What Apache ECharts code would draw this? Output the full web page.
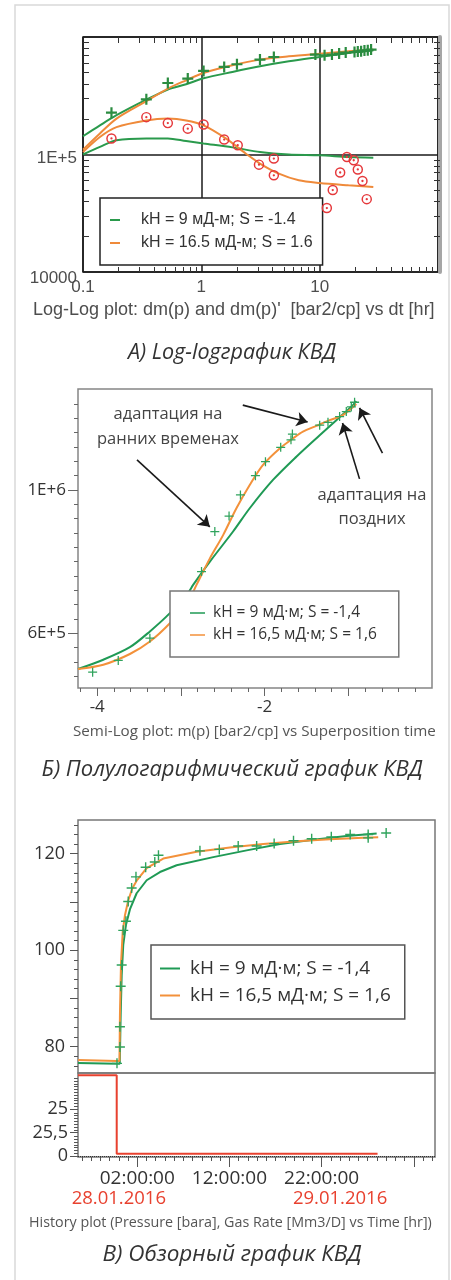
<!DOCTYPE html>
<html><head><meta charset="utf-8">
<script src="https://cdn.jsdelivr.net/npm/echarts@6/dist/echarts.min.js"></script>
<style>html,body{margin:0;padding:0;background:#fff}#c{width:451px;height:1280px}</style>
</head><body><div id="c"></div><script>
// ---------- Panel A: log-log ----------
const llNameGreen = 'kH = 9 мД-м; S = -1.4';
const llNameOrange = 'kH = 16.5 мД-м; S = 1.6';
const llPressure = [[0.174,2.27e5],[0.343,2.95e5],[0.521,4.06e5],[0.768,4.43e5],[1.045,5.14e5],[1.56,5.56e5],[2.0,5.86e5],[3.13,6.42e5],[4.1,6.76e5],[9.2,7.08e5],[11.0,6.99e5],[12.7,7.08e5],[14.6,7.22e5],[16.6,7.37e5],[19.7,7.45e5],[21.0,7.51e5],[22.4,7.56e5],[23.9,7.66e5],[25.5,7.71e5],[27.2,7.81e5]];
const llDeriv = [[0.174,1.37e5],[0.343,2.08e5],[0.521,1.85e5],[0.768,1.66e5],[1.045,1.80e5],[1.56,1.34e5],[2.03,1.20e5],[3.07,8.2e4],[4.1,9.23e4],[4.1,6.65e4],[11.5,3.5e4],[12.9,4.98e4],[14.9,7.03e4],[17.0,9.52e4],[19.4,8.93e4],[21.0,7.46e4],[23.0,5.95e4],[25.0,4.17e4]];
const llGreenP = [[0.1,1.43e5],[0.139,1.77e5],[0.192,2.16e5],[0.343,2.93e5],[0.521,3.57e5],[0.744,3.96e5],[1.045,4.45e5],[1.83,5.04e5],[3.13,5.63e5],[5.49,6.21e5],[10.0,6.76e5],[17.5,7.3e5],[28.4,7.7e5]];
const llOrangeP = [[0.1,1.10e5],[0.139,1.51e5],[0.192,2.02e5],[0.343,2.84e5],[0.521,3.64e5],[0.744,4.28e5],[1.045,4.94e5],[1.83,5.74e5],[3.13,6.42e5],[5.49,6.85e5],[10.0,7.22e5],[17.5,7.56e5],[28.4,7.81e5]];
const llGreenD = [[0.1,1.0e5],[0.139,1.16e5],[0.192,1.32e5],[0.343,1.37e5],[0.521,1.37e5],[0.744,1.30e5],[1.045,1.24e5],[1.83,1.15e5],[3.13,1.05e5],[5.49,1.0e5],[10.0,9.85e4],[17.5,9.53e4],[28.4,9.4e4]];
const llOrangeD = [[0.1,1.05e5],[0.139,1.41e5],[0.192,1.71e5],[0.343,1.95e5],[0.521,2.02e5],[0.744,1.95e5],[1.045,1.77e5],[1.61,1.37e5],[2.37,1.02e5],[3.13,8.37e4],[4.52,6.87e4],[6.66,6.03e4],[10.0,5.72e4],[17.5,5.47e4],[28.4,5.29e4]];
const llXMajor = [0.1, 1, 10, 100];
const llXLabelVals = [0.1, 1, 10];
const llXLabels = ['0.1', '1', '10'];
const llXMinor = [0.2,0.3,0.4,0.5,0.6,0.7,0.8,0.9,2,3,4,5,6,7,8,9,20,30,40,50,60,70,80,90];
const llYMajor = [1e4, 1e5, 1e6];
const llYLabelVals = [1e4, 1e5];
const llYLabels = ['10000', '1E+5'];
const llYMinor = [2e4,3e4,4e4,5e4,6e4,7e4,8e4,9e4,2e5,3e5,4e5,5e5,6e5,7e5,8e5,9e5];

// ---------- Panel B: semi-log ----------
const nameGreen = 'kH = 9 мД·м; S = -1,4';
const nameOrange = 'kH = 16,5 мД·м; S = 1,6';
const semiGreen = [[-4.23,5.0e5],[-3.928,5.26e5],[-3.61,5.61e5],[-3.371,6.05e5],[-3.132,6.56e5],[-2.914,7.13e5],[-2.854,7.35e5],[-2.654,8.0e5],[-2.377,8.84e5],[-2.178,9.49e5],[-1.9,1.028e6],[-1.621,1.093e6],[-1.342,1.153e6],[-1.143,1.195e6],[-0.945,1.237e6],[-0.905,1.248e6]];
const semiOrange = [[-4.23,5.0e5],[-3.928,5.12e5],[-3.61,5.42e5],[-3.371,5.77e5],[-3.132,6.28e5],[-2.914,6.88e5],[-2.814,7.35e5],[-2.654,8.09e5],[-2.496,8.74e5],[-2.337,9.49e5],[-2.178,1.014e6],[-2.019,1.07e6],[-1.82,1.116e6],[-1.661,1.144e6],[-1.542,1.163e6],[-1.382,1.179e6],[-1.223,1.195e6],[-1.064,1.209e6],[-0.905,1.240e6]];
const semiData = [[-4.055,4.91e5],[-3.749,5.24e5],[-3.371,5.86e5],[-2.754,7.72e5],[-2.595,8.84e5],[-2.425,9.27e5],[-2.289,9.86e5],[-2.11,1.04e6],[-1.99,1.079e6],[-1.808,1.119e6],[-1.685,1.14e6],[-1.668,1.156e6],[-1.342,1.181e6],[-1.243,1.189e6],[-1.104,1.205e6],[-1.024,1.219e6],[-0.964,1.232e6],[-0.925,1.245e6]];
const semiArrows = [[[-2.261,1.237e6],[-1.486,1.19e6]],[[-3.525,1.084e6],[-2.655,8.97e5]],[[-0.866,1.031e6],[-1.069,1.187e6]],[[-0.592,1.103e6],[-0.866,1.229e6]]];
const semiXMajor = [-4,-3,-2,-1];
const semiXLabelVals = [-4,-2];
const semiXLabels = ['-4','-2'];
const semiXMinor = [-4.2,-3.8,-3.6,-3.4,-3.2,-2.8,-2.6,-2.4,-2.2,-1.8,-1.6,-1.4,-1.2,-0.8,-0.6,-0.4,-0.2];
const semiYMajor = [6e5, 1e6];
const semiYLabels = ['6E+5','1E+6'];
const semiYMinor = [4.8e5,5.2e5,5.6e5,6.4e5,6.8e5,7.2e5,7.6e5,8.0e5,8.4e5,8.8e5,9.2e5,9.6e5,1.04e6,1.08e6,1.12e6,1.16e6,1.2e6,1.24e6];

// ---------- Panel C: history ----------
const histGreen = [[-4.43,76.6],[-0.2,76.4],[0.1,76.4],[0.2,86.6],[0.31,94.8],[0.48,101.1],[0.77,105.2],[1.21,108.5],[1.93,111.8],[3.02,114.5],[4.46,116.2],[6.27,117.6],[10.24,119.3],[13.87,120.7],[17.48,122.0],[21.09,122.9],[24.71,123.7],[27.97,124.2]];
const histOrange = [[-4.43,77.2],[-0.2,77.0],[0.07,77.0],[0.12,86.6],[0.23,96.9],[0.42,103.8],[0.67,107.3],[1.02,110.3],[1.46,112.8],[1.93,114.4],[3.02,117.0],[4.82,119.0],[8.44,120.4],[12.05,121.3],[15.67,122.0],[19.29,122.6],[22.9,123.0],[26.51,123.3],[28.14,123.4]];
const histData = [[-0.2,76.5],[0.12,79.9],[0.12,84.1],[0.2,92.5],[0.31,96.9],[0.48,104.1],[0.77,106.0],[1.02,110.1],[1.39,112.9],[1.86,115.2],[2.91,117.2],[3.9,118.3],[4.3,119.7],[8.8,120.6],[10.9,120.9],[12.95,121.6],[14.95,121.6],[16.85,122.1],[18.95,122.7],[20.92,123.1],[23.05,123.5],[25.1,124.0],[27.05,124.0],[27.05,123.3],[29.0,124.3]];
const histRate = [[-4.43,86],[-0.23,86],[-0.23,2.5],[28.07,2.5]];
const histXMajor = [2,12,22,32];
const histXLabelVals = [2,12,22];
const histXLabels = ['02:00:00','12:00:00','22:00:00'];
const histXMinor = [-4,-3,-2,-1,0,1,3,4,5,6,7,8,9,10,11,13,14,15,16,17,18,19,20,21,23,24,25,26,27,28,29,30,31,33,34];
const histDateVals = [0, 24];
const histDateLabels = ['28.01.2016','29.01.2016'];
const presYMajor = [80,90,100,110,120];
const presYLabelVals = [80,100,120];
const presYLabels = ['80','100','120'];
const presYMinor = [76,78,82,84,86,88,92,94,96,98,102,104,106,108,112,114,116,118,122,124,126];
const rateYMajor = [0,25,50];
const rateYLabels = ['0','25,5','25'];
const rateYMinor = [3,6,9,12,15,18,21,28,31,34,37,40,43,46,53,56,59,62,65,68,71,74,77,80,83];

// ---------- helpers ----------
function lab(vals, texts){
  return function(v){
    for (let i=0;i<vals.length;i++){
      if (Math.abs(v-vals[i]) <= Math.abs(vals[i])*1e-6+1e-9) return texts[i];
    }
    return '';
  };
}
const AF = 'Liberation Sans, Arial, sans-serif';
const BF = 'Open Sans, Noto Sans, sans-serif';
const plusPath = 'path://M4.3,0H5.7V4.3H10V5.7H5.7V10H4.3V5.7H0V4.3H4.3Z';
const plusPathBold = 'path://M4,0H6V4H10V6H6V10H4V6H0V4H4Z';
const ringPath = 'path://M5,0A5,5 0 1,1 5,10A5,5 0 1,1 5,0ZM5,1.4A3.6,3.6 0 1,0 5,8.6A3.6,3.6 0 1,0 5,1.4ZM5,3.9A1.1,1.1 0 1,1 5,6.1A1.1,1.1 0 1,1 5,3.9Z';

function ax(o){
  const base = {
    axisLine:{show:false}, splitLine:{show:false},
    axisTick:{show:false}, axisLabel:{show:false}
  };
  return Object.assign(base, o);
}
function ticks(vals, len, inside, color){
  return {show:true, customValues: vals, length: len, inside: !!inside, lineStyle:{color: color||'#555', width:1}};
}

const G_A = '#2a9a4c', O_A = '#ef8a3a', GC = '#1f9a55', OC = '#f3913a';
const llYFmt = lab(llYLabelVals, llYLabels);

const xAxes = [
  // A
  ax({type:'log', logBase:10, gridIndex:0, min:0.1, max:100, position:'bottom',
      axisTick: ticks(llXMajor, 0, true, '#222'),
      splitLine:{show:true, lineStyle:{color:'#1a1a1a', width:1.5}},
      axisLabel:{show:true, customValues: llXLabelVals, formatter: lab(llXLabelVals, llXLabels), margin:7,
        fontFamily:AF, fontSize:17, color:'#4d4d4d'}}),
  ax({type:'log', logBase:10, gridIndex:0, min:0.1, max:100, position:'bottom', axisTick: ticks(llXMinor, 5, true, '#333')}),
  ax({type:'log', logBase:10, gridIndex:0, min:0.1, max:100, position:'top', axisTick: ticks(llXMinor, 6, true, '#333')}),
  // B
  ax({type:'value', gridIndex:1, min:-4.23, max:0, position:'bottom',
      axisTick: ticks(semiXMajor, 8, false, '#666'),
      axisLabel:{show:true, customValues: semiXLabelVals, formatter: lab(semiXLabelVals, semiXLabels), margin:11,
        fontFamily:BF, fontSize:17, color:'#333'}}),
  ax({type:'value', gridIndex:1, min:-4.23, max:0, position:'bottom', axisTick: ticks(semiXMinor, 4, false, '#666')}),
  // C pressure (hidden)
  ax({type:'value', gridIndex:2, min:-4.43, max:34.3, position:'bottom'}),
  // C rate
  ax({type:'value', gridIndex:3, min:-4.43, max:34.3, position:'bottom',
      axisTick: ticks(histXMajor, 10, false, '#555'),
      axisLabel:{show:true, customValues: histXLabelVals, formatter: lab(histXLabelVals, histXLabels), margin:12,
        fontFamily:BF, fontSize:19, color:'#333'}}),
  ax({type:'value', gridIndex:3, min:-4.43, max:34.3, position:'bottom', axisTick: ticks(histXMinor, 4, false, '#555')}),
  ax({type:'value', gridIndex:3, min:-4.43, max:34.3, position:'bottom',
      axisLabel:{show:true, customValues: histDateVals, formatter: lab(histDateVals, histDateLabels), margin:32,
        fontFamily:BF, fontSize:18.5, color:'#e8412f'}})
];
xAxes.forEach(a => { a.axisLine = Object.assign({onZero:false}, a.axisLine); });

const yAxes = [
  // A
  ax({type:'log', logBase:10, gridIndex:0, min:1e4, max:1e6, position:'left',
      axisTick: ticks(llYMajor, 0, true, '#222'),
      splitLine:{show:true, lineStyle:{color:'#1a1a1a', width:1.5}},
      axisLabel:{show:true, customValues: llYLabelVals, margin:6,
        formatter: function(v){ const t = llYFmt(v); if (!t) return ''; return (t === '10000' ? '{b|' : '{a|') + t + '}'; },
        rich:{
          a:{fontFamily:AF, fontSize:17, color:'#4d4d4d', padding:[8,0,0,0]},
          b:{fontFamily:AF, fontSize:17, color:'#4d4d4d', padding:[13,0,0,0]}
        },
        fontFamily:AF, fontSize:17, color:'#4d4d4d'}}),
  ax({type:'log', logBase:10, gridIndex:0, min:1e4, max:1e6, position:'left', axisTick: ticks(llYMinor, 6, true, '#333')}),
  ax({type:'log', logBase:10, gridIndex:0, min:1e4, max:1e6, position:'right', axisTick: ticks(llYMinor, 6, true, '#333'),
      axisLine:{show:true, lineStyle:{color:'#a6a6a6', width:4}}, offset:2}),
  // B
  ax({type:'value', gridIndex:1, min:4.47e5, max:1.282e6, position:'left',
      axisTick: ticks(semiYMajor, 10, false, '#666'),
      axisLabel:{show:true, customValues: semiYMajor, formatter: lab(semiYMajor, semiYLabels), margin:12,
        fontFamily:BF, fontSize:17, color:'#333'}}),
  ax({type:'value', gridIndex:1, min:4.47e5, max:1.282e6, position:'left', axisTick: ticks(semiYMinor, 4, false, '#666')}),
  // C pressure
  ax({type:'value', gridIndex:2, min:74.5, max:127, position:'left',
      axisTick: ticks(presYMajor, 8, false, '#555'),
      axisLabel:{show:true, customValues: presYLabelVals, formatter: lab(presYLabelVals, presYLabels), margin:13,
        fontFamily:BF, fontSize:18, color:'#333'}}),
  ax({type:'value', gridIndex:2, min:74.5, max:127, position:'left', axisTick: ticks(presYMinor, 4, false, '#555')}),
  // C rate
  ax({type:'value', gridIndex:3, min:-1, max:88.5, position:'left',
      axisTick: ticks(rateYMajor, 8, false, '#555'),
      axisLabel:{show:true, customValues: rateYMajor, formatter: lab(rateYMajor, rateYLabels), margin:10,
        fontFamily:BF, fontSize:18, color:'#333'}}),
  ax({type:'value', gridIndex:3, min:-1, max:88.5, position:'left', axisTick: ticks(rateYMinor, 4, false, '#555')})
];
yAxes.forEach(a => { a.axisLine = Object.assign({onZero:false}, a.axisLine); });

function line(name, data, color, xi, yi, smooth){
  return {type:'line', name, data, xAxisIndex:xi, yAxisIndex:yi, color, symbol:'none', smooth: smooth||false,
    lineStyle:{color, width:2}, z:3, silent:true};
}
function scatter(name, data, color, xi, yi, sym, size){
  return {type:'scatter', name, data, xAxisIndex:xi, yAxisIndex:yi, symbol:sym, symbolSize:size,
    itemStyle:{color, opacity:1}, z:4, silent:true};
}

const series = [
  line(llNameGreen, llGreenP, G_A, 0, 0, 0.3),
  line(llNameGreen, llGreenD, G_A, 0, 0, 0.3),
  line(llNameOrange, llOrangeP, O_A, 0, 0, 0.3),
  line(llNameOrange, llOrangeD, O_A, 0, 0, 0.3),
  scatter('dm(p)', llPressure, '#2b8c40', 0, 0, plusPathBold, 11),
  scatter("dm(p)'", llDeriv, '#e5383b', 0, 0, ringPath, 10.5),
  line(nameGreen, semiGreen, GC, 3, 3, 0.3),
  line(nameOrange, semiOrange, OC, 3, 3, 0.3),
  Object.assign(scatter('m(p)', semiData, '#2fa35c', 3, 3, plusPath, 9), {
    markLine:{silent:true, symbol:['none','arrow'], symbolSize:11, animation:false,
      lineStyle:{color:'#1a1a1a', width:1.6, type:'solid'}, label:{show:false},
      data: semiArrows.map(a => [{coord:a[0]},{coord:a[1]}])}
  }),
  line(nameGreen, histGreen, GC, 5, 5, false),
  line(nameOrange, histOrange, OC, 5, 5, false),
  scatter('p', histData, '#2fa35c', 5, 5, plusPath, 10),
  Object.assign(line('rate', histRate, '#e8412f', 6, 7, false), {
    markLine:{silent:true, symbol:['none','none'], animation:false,
      lineStyle:{color:'#333', width:1, type:'dotted'}, label:{show:false}, data:[{yAxis:0}]}
  })
];

function txt(x, y, text, font, size, color, align, italic){
  return {type:'text', x, y, silent:true, style:{text, fontFamily:font, fontSize:size, fill:color,
    align: align||'left', verticalAlign:'middle', fontStyle: italic?'italic':'normal'}};
}

const option = {
  animation:false,
  backgroundColor:'#fff',
  grid:[
    {left:83, top:37, width:355, height:235, show:true, borderColor:'#1a1a1a', borderWidth:1.5, backgroundColor:'transparent'},
    {left:78, top:389, width:354, height:299, show:true, borderColor:'#858585', borderWidth:1.5, backgroundColor:'transparent'},
    {left:78, top:820, width:357, height:253, show:true, borderColor:'#777', borderWidth:1.5, backgroundColor:'transparent'},
    {left:78, top:1073, width:357, height:84, show:true, borderColor:'#777', borderWidth:1.5, backgroundColor:'transparent'}
  ],
  xAxis: xAxes,
  yAxis: yAxes,
  legend:[
    {left:100, top:198, orient:'vertical', data:[llNameGreen, llNameOrange], icon:'rect', itemWidth:10, itemHeight:2,
     itemGap:7, padding:[14,10,14,10], borderColor:'#222', borderWidth:1.5, backgroundColor:'#fff', selectedMode:false,
     textStyle:{fontFamily:AF, fontSize:16, color:'#333', lineHeight:16, padding:[0,0,0,16]}},
    {left:170, top:591, orient:'vertical', data:[nameGreen, nameOrange], icon:'rect', itemWidth:15, itemHeight:1.5,
     itemGap:6, padding:[14,22,14,20], borderColor:'#777', borderWidth:1.5, backgroundColor:'#fff', selectedMode:false,
     textStyle:{fontFamily:BF, fontSize:15.5, color:'#333', lineHeight:16, padding:[0,0,0,3]}},
    {left:151, top:945, orient:'vertical', data:[nameGreen, nameOrange], icon:'rect', itemWidth:20, itemHeight:2,
     itemGap:8, padding:[14,14,14,9], borderColor:'#555', borderWidth:1.5, backgroundColor:'#fff', selectedMode:false,
     textStyle:{fontFamily:BF, fontSize:19, color:'#333', lineHeight:19, padding:[0,0,0,5]}}
  ],
  graphic:[
    {type:'rect', silent:true, shape:{x:15, y:5, width:434, height:1300}, style:{fill:'none', stroke:'#d9d9d9', lineWidth:1.5}},
    txt(33, 310, "Log-Log plot: dm(p) and dm(p)'  [bar2/cp] vs dt [hr]", AF, 18, '#4d4d4d'),
    txt(232, 353, 'А) Log-logграфик КВД', BF, 21.5, '#333', 'center', true),
    txt(168, 414, 'адаптация на', BF, 16.5, '#444', 'center'),
    txt(168, 439, 'ранних временах', BF, 16.5, '#444', 'center'),
    txt(372, 495, 'адаптация на', BF, 16.5, '#444', 'center'),
    txt(372, 519, 'поздних', BF, 16.5, '#444', 'center'),
    txt(73, 732, 'Semi-Log plot: m(p) [bar2/cp] vs Superposition time', BF, 15.2, '#555'),
    txt(232, 770, 'Б) Полулогарифмический график КВД', BF, 22, '#333', 'center', true),
    txt(29, 1223, 'History plot (Pressure [bara], Gas Rate [Mm3/D] vs Time [hr])', BF, 14.3, '#555'),
    txt(232, 1255, 'В) Обзорный график КВД', BF, 22.5, '#333', 'center', true)
  ],
  series
};
const chart = echarts.init(document.getElementById('c'), null, {renderer:'canvas'});
chart.setOption(option);
</script></body></html>
